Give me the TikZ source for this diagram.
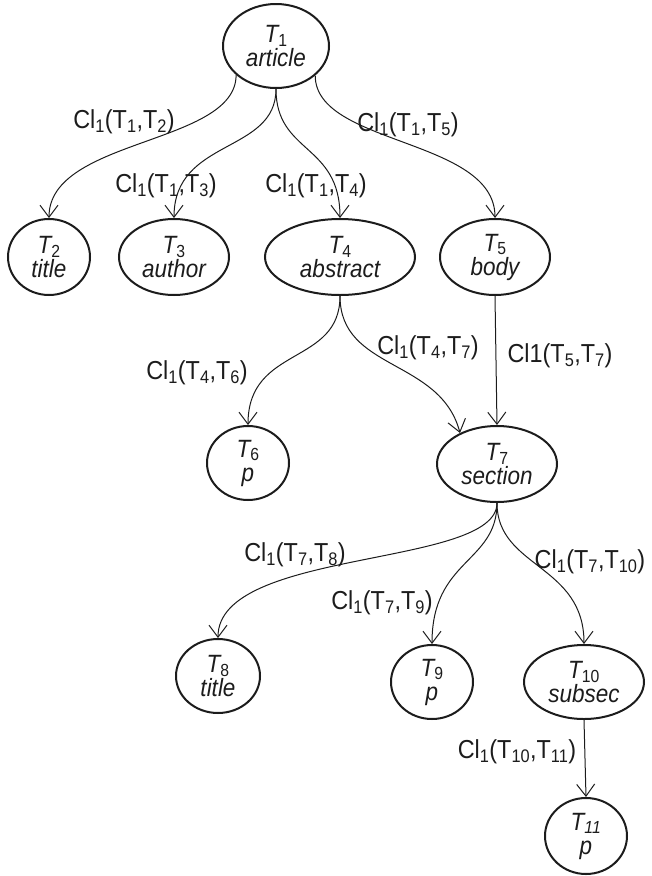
\documentclass[tikz,border=0pt]{standalone}
\usepackage{graphicx}
\usepackage{fontspec}
\setmainfont{Liberation Sans}
\usetikzlibrary{arrows.meta,shapes.geometric}
\definecolor{ink}{RGB}{28,28,28}
\newcommand{\nx}[1]{\scalebox{0.9}[1]{#1}}
\begin{document}
\begin{tikzpicture}[x=1pt,y=-1pt,
  tnode/.style={ellipse, draw=ink, line width=2pt, inner sep=0pt, align=center,
    font=\fontsize{25}{24}\selectfont\itshape, text=ink},
  lbl/.style={font=\fontsize{26}{26}\selectfont, text=ink, inner sep=0pt},
  conn/.style={draw=ink, line width=1pt, -{Straight Barb[length=12pt,width=18pt,line width=1pt]}}
]
\useasboundingbox (0,0) rectangle (652,876);
% nodes
\node[tnode, minimum width=106pt, minimum height=84pt] (T1) at (276,46) {\nx{T\textsubscript{\upshape 1}}\\\nx{article}};
\node[tnode, minimum width=82pt, minimum height=76pt] (T2) at (49,257) {\nx{T\textsubscript{\upshape 2}}\\\nx{title}};
\node[tnode, minimum width=110pt, minimum height=76pt] (T3) at (174,257) {\nx{T\textsubscript{\upshape 3}}\\\nx{author}};
\node[tnode, minimum width=150pt, minimum height=76pt] (T4) at (340,257) {\nx{T\textsubscript{\upshape 4}}\\\nx{abstract}};
\node[tnode, minimum width=110pt, minimum height=76pt] (T5) at (495,257) {\nx{T\textsubscript{\upshape 5}}\\\nx{body}};
\node[tnode, minimum width=82pt, minimum height=74pt] (T6) at (248,463) {\nx{T\textsubscript{\upshape 6}}\\\nx{p}};
\node[tnode, minimum width=120pt, minimum height=76pt] (T7) at (497,464) {\nx{T\textsubscript{\upshape 7}}\\\nx{section}};
\node[tnode, minimum width=84pt, minimum height=74pt] (T8) at (218,676) {\nx{T\textsubscript{\upshape 8}}\\\nx{title}};
\node[tnode, minimum width=82pt, minimum height=74pt] (T9) at (432,682) {\nx{T\textsubscript{\upshape 9}}\\\nx{p}};
\node[tnode, minimum width=120pt, minimum height=74pt] (T10) at (584,682) {\nx{T\textsubscript{\upshape 10}}\\\nx{subsec}};
\node[tnode, minimum width=82pt, minimum height=76pt] (T11) at (586,836) {\nx{T\textsubscript{11}}\\\nx{p}};
% connectors
\draw[conn] (T1.216) .. controls +(0,70) and +(0,-80) .. (T2.north);
\draw[conn] (T1.south) .. controls +(0,65) and +(0,-80) .. (T3.north);
\draw[conn] (T1.south) .. controls +(0,65) and +(0,-75) .. (T4.north);
\draw[conn] (T1.-37) .. controls +(0,70) and +(0,-80) .. (T5.north);
\draw[conn] (T4.south) .. controls +(0,70) and +(0,-80) .. (T6.north);
\draw[conn] (T4.south) .. controls +(0,75) and +(-20,-75) .. (T7.140);
\draw[conn] (T5.south) -- (T7.north);
\draw[conn] (T7.south) .. controls +(0,65) and +(0,-90) .. (T8.north);
\draw[conn] (T7.south) .. controls +(0,60) and +(0,-85) .. (T9.north);
\draw[conn] (T7.south) .. controls +(0,65) and +(0,-80) .. (T10.north);
\draw[conn] (T10.south) -- (T11.north);
% labels
\node[lbl] (l12) at (124,122) {\nx{Cl\textsubscript{1}(T\textsubscript{1},T\textsubscript{2})}};
\node[lbl] (l13) at (166,186) {\nx{Cl\textsubscript{1}(T\textsubscript{1},T\textsubscript{3})}};
\node[lbl] (l14) at (316,186) {\nx{Cl\textsubscript{1}(T\textsubscript{1},T\textsubscript{4})}};
\node[lbl] (l15) at (408,125) {\nx{Cl\textsubscript{1}(T\textsubscript{1},T\textsubscript{5})}};
\node[lbl] (l46) at (197,373) {\nx{Cl\textsubscript{1}(T\textsubscript{4},T\textsubscript{6})}};
\node[lbl] (l47) at (428,348) {\nx{Cl\textsubscript{1}(T\textsubscript{4},T\textsubscript{7})}};
\node[lbl] (l57) at (560,356) {\nx{Cl1(T\textsubscript{5},T\textsubscript{7})}};
\node[lbl] (l78) at (295,555) {\nx{Cl\textsubscript{1}(T\textsubscript{7},T\textsubscript{8})}};
\node[lbl] (l79) at (382,603) {\nx{Cl\textsubscript{1}(T\textsubscript{7},T\textsubscript{9})}};
\node[lbl] (l710) at (590,562) {\nx{Cl\textsubscript{1}(T\textsubscript{7},T\textsubscript{10})}};
\node[lbl] (l1011) at (517,752) {\nx{Cl\textsubscript{1}(T\textsubscript{10},T\textsubscript{11})}};
\end{tikzpicture}
\end{document}
